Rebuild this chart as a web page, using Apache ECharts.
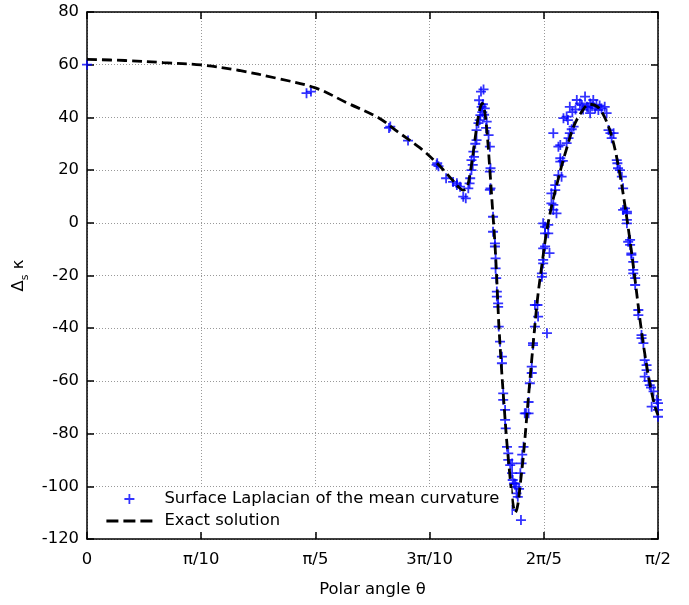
<!DOCTYPE html>
<html>
<head>
<meta charset="utf-8">
<script src="https://cdn.jsdelivr.net/npm/echarts@6/dist/echarts.min.js"></script>
<style>
  html, body { margin: 0; padding: 0; background: #fff; }
  #chart { width: 689px; height: 605px; }
</style>
</head>
<body>
<div id="chart"></div>
<script>
// Polar angle in degrees (0 .. 90 = 0 .. pi/2)
const tickValues = [0, 18, 36, 54, 72, 90];
const tickLabels = ['0', 'π/10', 'π/5', '3π/10', '2π/5', 'π/2'];

// Exact solution of the surface Laplacian of the mean curvature
const exactTheta = [0, 6, 12, 18, 24, 30, 36, 41, 46, 49, 52.5, 55, 57.5, 58.6, 59.3, 59.9, 60.4, 60.9, 61.4, 61.9, 62.3, 62.7, 63.1, 63.5, 63.9, 64.3, 64.6, 64.9, 65.3, 65.7, 66.2, 66.7, 67.1, 67.5, 67.9, 68.3, 68.8, 69.3, 69.8, 70.4, 71, 71.7, 72.4, 73.2, 74, 74.8, 75.7, 76.7, 77.8, 79.2, 80.5, 81.7, 82.8, 83.8, 84.7, 85.6, 86.4, 87.2, 88, 88.8, 89.5, 90];
const exactValue = [62, 61.6, 60.8, 59.9, 57.8, 54.8, 51.2, 45.5, 39.8, 34.5, 28.4, 23, 16.5, 13.5, 12.4, 13.5, 19, 27, 36, 43, 45.3, 42, 33, 20, 6, -8, -22, -38, -54, -68, -84, -97, -106, -110, -107, -99, -88, -74, -60, -44, -29, -16, -4, 6, 14, 21.5, 29, 36.5, 41.5, 45, 44, 39.5, 32, 21, 8, -7, -22, -37.5, -51, -62, -69.5, -73];

// Computed values at the surface nodes
const sampleTheta = [0, 34.6, 35.3, 47.8, 47.6, 50.6, 55.2, 55.4, 55.1, 56.6, 58.3, 58.3, 58.8, 57.7, 59.3, 59.7,
  60.1, 60.4, 60.6, 60.6, 60.9, 61.4, 61.4, 61.7, 62, 62.2, 62.4, 62.1, 62.5, 61.8, 62.7, 63, 63.3, 63.5, 63.6, 63.5, 63.6, 63.5, 62.3, 61.9, 61.2, 61, 60.8, 60.3, 62.6, 62.9,
  64, 64, 64.3, 64.3, 64.4, 64.4, 64.5, 64.6, 64.6, 64.8, 64.8, 64.9, 65.1, 65.4, 65.4, 65.6, 65.6, 65.9, 65.9, 66, 66.2, 66.4, 66.4, 66.7, 67, 67, 67.1, 67.3, 67.7, 67.7, 67.5, 67, 68.4, 67.9, 68.1,
  68.3, 68.5, 68.8, 68.6, 69, 69.2, 69.6, 69.6, 69.8, 70.1, 70.1, 70.3, 70.3, 70.6, 70.6, 71, 71.1, 72.5, 71.7, 71.7, 71.9, 71.9, 72.2, 71.9, 72.2, 72.7, 72.9, 71.9, 72.7, 72.2, 73.2, 73.5, 74, 73.5, 73.2, 73.8, 73.8, 74.3, 74.8, 74.6, 74.6, 75, 74.3, 74.6, 75.6, 73.5, 75.9, 76.1, 76.4, 76.7, 75.1, 75.6, 75.8, 76.1, 76.5,
  77.2, 77.7, 78.5, 78, 78.8, 79.3, 79.8, 80.1, 79.3, 80.6, 81.1, 81.6, 81.9, 78.2, 79, 80.3, 77, 80.8, 79.6,
  82.2, 82.5, 82.7, 83, 83.5, 83.6, 83.7, 84, 84.3, 84.5, 84.5, 84.8, 85.1, 85.1, 85.1, 85.1, 85.3, 85.6, 85.6, 85.8, 85.8, 86.1, 86.1, 86.1, 86.4, 86.4, 86.9, 86.9, 87.4, 87.4, 87.7, 87.9, 88.2, 88.2, 87.9, 88.7, 88.9, 89, 89.8, 90, 90, 90, 88.5, 89.3];
const sampleValue = [60, 49.2, 49.8, 36.5, 36, 31.2, 22.6, 21.5, 22, 16.9, 15, 14.3, 13.7, 15.5, 9.9, 9.3,
  13.1, 16.9, 20, 23.8, 27, 31.4, 35.2, 37.8, 40.9, 44, 45, 49.8, 50.6, 46.5, 43.4, 38.4, 33.3, 28.9, 20.7, 19.4, 13.1, 12.5, 42, 39, 30, 25, 22, 15, 41, 36,
  2.3, -3.4, -7.8, -9, -13.5, -17.3, -21, -26.1, -28, -30.6, -31.9, -39.4, -45.1, -50.8, -53.3, -64.7, -67.2, -71, -74.8, -78, -85, -87.5, -90, -92, -91.3, -95, -97.6, -98.9, -100.2, -102.7, -99, -109, -112.8, -104, -101,
  -95, -91.3, -85, -88, -72.3, -72.3, -72.3, -68, -60.9, -54.6, -57, -45.7, -46.4, -39.4, -31.2, -31.2, -35.6, -41.9, -20.5, -19.2, -14.1, -15.4, -9, -9.7, -4, -4, -11.5, -0.2, -0.8, -1.5, 7.4, 4.9, 3.6, 6.8, 11.2, 12.4, 14.3, 18.1, 17.5, 23.2, 24.5, 23.5, 28.9, 29.5, 30.2, 34, 32.1, 34, 35.5, 36.5, 39.7, 40.3, 39, 44, 42,
  46.6, 45.3, 47.9, 44.7, 44, 45.3, 46.6, 43.4, 41.6, 42.8, 43.4, 44, 41.6, 43, 43.8, 44.8, 43, 44.5, 44.2,
  35.2, 34, 32.1, 34, 23.8, 22.6, 20.7, 20, 17.5, 13.1, 4.9, 5.5, 4.2, 3.6, 1.1, -0.2, -7.2, -6.5, -8.4, -11.6, -12.2, -14.8, -17.9, -19.2, -21, -23.6, -33.1, -35, -42.6, -43.8, -45.7, -52.1, -54, -55.9, -58.4, -61.6, -62.5, -69.8, -67.2, -68.4, -71, -73.6, -60, -64];

const FONT = 'DejaVu Sans';
const FS = 16.4;
const PLUS = 'path://M4.1,0h1.8v4.1h4.1v1.8h-4.1v4.1h-1.8v-4.1h-4.1v-1.8h4.1z';
const DASH = [10, 5];

const chart = echarts.init(document.getElementById('chart'), null, { renderer: 'canvas' });

const gridLine = { show: true, lineStyle: { color: '#999', width: 1, type: [1, 2] } };
const frameLine = { show: true, onZero: false, lineStyle: { color: '#000', width: 1.5 } };
const innerTick = { show: true, inside: true, length: 7, lineStyle: { color: '#000', width: 1.5 } };

chart.setOption({
  animation: false,
  backgroundColor: '#fff',
  textStyle: { fontFamily: FONT },
  grid: { left: 87, right: 31, top: 12, bottom: 66, containLabel: false },
  legend: {
    orient: 'vertical',
    left: 90,
    top: 488,
    padding: [3, 12, 3, 15],
    itemGap: 6,
    itemWidth: 46,
    itemHeight: 10,
    backgroundColor: '#fff',
    textStyle: { fontFamily: FONT, fontSize: FS, color: '#000', padding: [0, 0, 0, 7] },
    data: [
      { name: 'Surface Laplacian of the mean curvature', icon: PLUS },
      { name: 'Exact solution', itemStyle: { opacity: 0 }, lineStyle: { color: '#000', width: 2.8, type: [12, 5] } }
    ]
  },
  xAxis: [{
    type: 'value', min: 0, max: 90, interval: 18,
    name: 'Polar angle θ', nameLocation: 'middle', nameGap: 43,
    nameTextStyle: { fontFamily: FONT, fontSize: FS, color: '#000' },
    axisLine: frameLine, axisTick: innerTick, splitLine: gridLine,
    axisLabel: {
      fontFamily: FONT, fontSize: FS, color: '#000', margin: 13,
      formatter: v => tickLabels[tickValues.indexOf(Math.round(v))] ?? ''
    }
  }, {
    type: 'value', min: 0, max: 90, interval: 18, position: 'top',
    axisLine: frameLine, axisTick: innerTick, splitLine: { show: false }, axisLabel: { show: false }
  }],
  yAxis: [{
    type: 'value', min: -120, max: 80, interval: 20,
    name: '{d|Δ}{s|s}{d| κ}', nameLocation: 'middle', nameGap: 57,
    nameTextStyle: {
      color: '#000',
      rich: {
        d: { fontFamily: FONT, fontSize: FS, color: '#000', lineHeight: 20, verticalAlign: 'bottom' },
        s: { fontFamily: FONT, fontSize: 11, color: '#000', lineHeight: 20, verticalAlign: 'bottom', padding: [0, 0, -4, 0] }
      }
    },
    axisLine: frameLine, axisTick: innerTick, splitLine: gridLine,
    axisLabel: { fontFamily: FONT, fontSize: FS, color: '#000', margin: 8 }
  }, {
    type: 'value', min: -120, max: 80, interval: 20, position: 'right',
    axisLine: frameLine, axisTick: innerTick, splitLine: { show: false }, axisLabel: { show: false }
  }],
  series: [{
    name: 'Surface Laplacian of the mean curvature',
    type: 'scatter',
    symbol: PLUS,
    symbolSize: 10,
    itemStyle: { color: '#0000ff' },
    z: 2,
    data: sampleTheta.map((t, i) => [t, sampleValue[i]])
  }, {
    name: 'Exact solution',
    type: 'line',
    symbol: 'none',
    smooth: 0.35,
    lineStyle: { color: '#000', width: 2.8, type: DASH },
    itemStyle: { color: '#000' },
    z: 3,
    data: exactTheta.map((t, i) => [t, exactValue[i]])
  }]
});
</script>
</body>
</html>
